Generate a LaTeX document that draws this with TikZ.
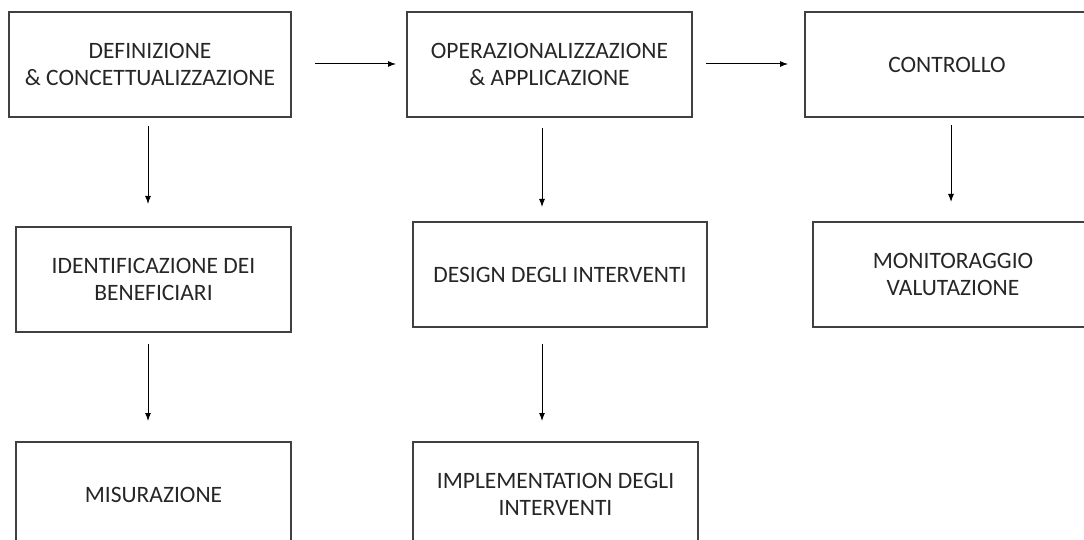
\documentclass[tikz,border=0pt]{standalone}
\usepackage{fontspec}
\setmainfont{Carlito}
\usetikzlibrary{arrows.meta}
\definecolor{boxline}{HTML}{404040}
\definecolor{boxtext}{HTML}{262626}
\tikzstyle{box}=[rectangle, draw=boxline, line width=1.5pt, text=boxtext, align=center, inner sep=0pt, anchor=center, font=\fontsize{23.5}{27}\selectfont]
\tikzstyle{flow}=[-{Latex[length=8pt,width=6pt]}, line width=1pt, black]
\begin{document}
\begin{tikzpicture}[x=1pt,y=-1pt]
	\useasboundingbox (0,0) rectangle (1084,540);
	\clip (0,0) rectangle (1084,540);

	% first row
	\node[box, minimum width=282pt, minimum height=105pt](defin) at (150,64.5){DEFINIZIONE\\\& CONCETTUALIZZAZIONE};
	\node[box, minimum width=285pt, minimum height=105pt](operaz) at (549.5,64.5){OPERAZIONALIZZAZIONE\\\& APPLICAZIONE};
	\node[box, minimum width=284pt, minimum height=105pt](contr) at (947,64.5){CONTROLLO};

	% second row
	\node[box, minimum width=275pt, minimum height=105pt](ident) at (153.5,279.5){IDENTIFICAZIONE DEI\\BENEFICIARI};
	\node[box, minimum width=294pt, minimum height=105pt](design) at (560,274.5){DESIGN DEGLI INTERVENTI};
	\node[box, minimum width=280pt, minimum height=105pt](monit) at (953,274.5){MONITORAGGIO\\VALUTAZIONE};

	% third row
	\node[box, minimum width=275pt, minimum height=105pt](misur) at (153.5,494.5){MISURAZIONE};
	\node[box, minimum width=285pt, minimum height=105pt](implem) at (555.5,494.5){IMPLEMENTATION DEGLI\\INTERVENTI};

	\coordinate (a1s) at (315,64);   \coordinate (a1e) at (396,64);
	\coordinate (a2s) at (706,64);   \coordinate (a2e) at (788,64);
	\coordinate (d1s) at (148,126);  \coordinate (d1e) at (148,204);
	\coordinate (d2s) at (542,128);  \coordinate (d2e) at (542,207);
	\coordinate (d3s) at (951,125);  \coordinate (d3e) at (951,202);
	\coordinate (d4s) at (148,344);  \coordinate (d4e) at (148,421);
	\coordinate (d5s) at (542,344);  \coordinate (d5e) at (542,421);

	\draw[flow] (a1s) -- (a1e);
	\draw[flow] (a2s) -- (a2e);
	\draw[flow] (d1s) -- (d1e);
	\draw[flow] (d2s) -- (d2e);
	\draw[flow] (d3s) -- (d3e);
	\draw[flow] (d4s) -- (d4e);
	\draw[flow] (d5s) -- (d5e);
\end{tikzpicture}
\end{document}
